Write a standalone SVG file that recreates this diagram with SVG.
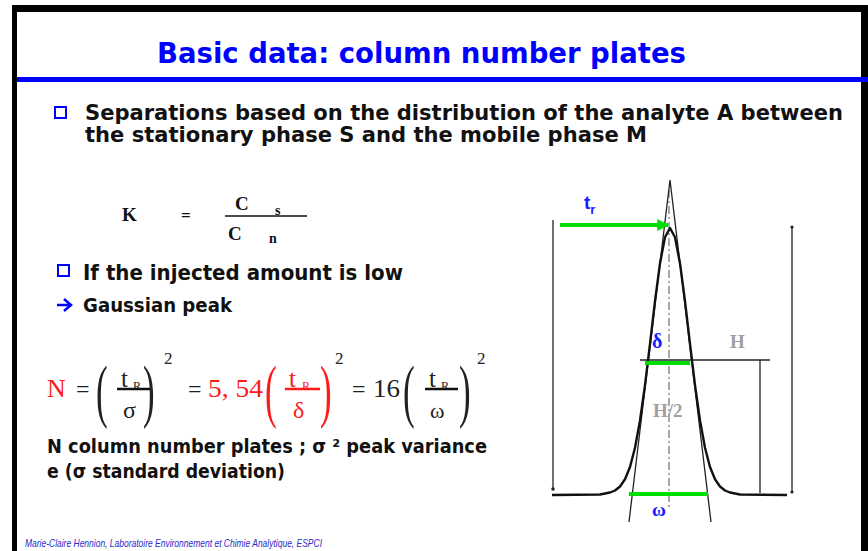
<svg xmlns="http://www.w3.org/2000/svg" width="868" height="551" viewBox="0 0 868 551">
<style>
.comic{font-family:"DejaVu Sans","Noto Sans",sans-serif;fill:#111;font-weight:bold}
.title{font-family:"DejaVu Sans","Noto Sans",sans-serif;fill:#0000ff;font-size:28px;font-weight:bold}
.tm{font-family:"Liberation Serif","Times New Roman",serif}
.red{fill:#ff1a1a}
.blk{fill:#222}
.green{stroke:#00dd00;stroke-width:4;fill:none}
.thin{stroke:#222;stroke-width:1.3;fill:none}
.grey{font-family:"Liberation Serif",serif;font-weight:bold;fill:#a0a0a0;font-size:19px}
.bluelbl{fill:#1a1aff;font-weight:bold}
.box{fill:none;stroke:#0000ff;stroke-width:2}
</style>
<defs>
<marker id="ah" viewBox="0 0 10 10" refX="9" refY="5" markerWidth="3" markerHeight="3" orient="auto"><path d="M0,0 L10,5 L0,10 z" fill="#00dd00"/></marker>
</defs>
<rect width="868" height="551" fill="#fff"/>
<g id="frame" fill="#000">
<rect x="12" y="5" width="856" height="7"/>
<rect x="12" y="5" width="5" height="546"/>
<rect x="861" y="5" width="7" height="546"/>
<rect x="17" y="77" width="851" height="5" fill="#0000ff"/>
</g>
<g id="title"><text class="title" x="157" y="63" textLength="529" lengthAdjust="spacingAndGlyphs">Basic data: column number plates</text></g>
<g id="intro">
<rect class="box" x="55" y="107" width="11" height="11"/>
<text class="comic" font-size="21" x="85" y="120" textLength="758" lengthAdjust="spacingAndGlyphs">Separations based on the distribution of the analyte A between</text>
<text class="comic" font-size="21" x="85" y="142" textLength="562" lengthAdjust="spacingAndGlyphs">the stationary phase S and the mobile phase M</text>
</g>
<g id="k-formula" class="tm" font-weight="bold" fill="#111">
<text x="122" y="221" font-size="19">K</text>
<text x="181" y="221" font-size="17">=</text>
<text x="235" y="210" font-size="19">C</text>
<text x="275" y="215" font-size="14">s</text>
<line x1="225" y1="216" x2="307" y2="216" stroke="#111" stroke-width="1.5"/>
<text x="228" y="240" font-size="19">C</text>
<text x="269" y="243" font-size="14">n</text>
</g>
<g id="low">
<rect class="box" x="58" y="265" width="11" height="11"/>
<text class="comic" font-size="21" x="83" y="280" textLength="320" lengthAdjust="spacingAndGlyphs">If the injected amount is low</text>
<path d="M57,305 H70 M64,299 L71,305 L64,311" stroke="#0000ff" stroke-width="2.5" fill="none"/>
<text class="comic" font-size="20" x="83" y="312" textLength="149" lengthAdjust="spacingAndGlyphs">Gaussian peak</text>
</g>
<g id="n-formula" class="tm">
<text class="red" x="47" y="397" font-size="26">N</text>
<text class="blk" x="76" y="397" font-size="24">=</text>
<text class="blk" transform="translate(96,414) scale(0.5,1)" font-size="70">(</text>
<text class="blk" x="121" y="387" font-size="25">t</text>
<text class="blk" x="133" y="390" font-size="12">R</text>
<line x1="117" y1="389" x2="152" y2="389" stroke="#111" stroke-width="2.4"/>
<text class="blk" x="123" y="418" font-size="24">σ</text>
<text class="blk" transform="translate(143,414) scale(0.5,1)" font-size="70">)</text>
<text class="blk" x="164" y="364" font-size="17">2</text>
<text class="blk" x="188" y="397" font-size="24">=</text>
<text class="red" x="208" y="397" font-size="26" textLength="55" lengthAdjust="spacingAndGlyphs">5, 54</text>
<text class="red" transform="translate(265,414) scale(0.5,1)" font-size="70">(</text>
<text class="red" x="289" y="387" font-size="25">t</text>
<text class="red" x="302" y="390" font-size="12">R</text>
<line x1="285" y1="389" x2="320" y2="389" stroke="#ff1a1a" stroke-width="2.4"/>
<text class="red" x="293" y="418" font-size="24">δ</text>
<text class="red" transform="translate(320,414) scale(0.5,1)" font-size="70">)</text>
<text class="blk" x="335" y="364" font-size="17">2</text>
<text class="blk" x="352" y="397" font-size="24">=</text>
<text class="blk" x="373" y="397" font-size="26" textLength="27" lengthAdjust="spacingAndGlyphs">16</text>
<text class="blk" transform="translate(403,414) scale(0.5,1)" font-size="70">(</text>
<text class="blk" x="429" y="387" font-size="25">t</text>
<text class="blk" x="441" y="390" font-size="12">R</text>
<line x1="425" y1="389" x2="458" y2="389" stroke="#111" stroke-width="2.4"/>
<text class="blk" x="430" y="418" font-size="22">ω</text>
<text class="blk" transform="translate(459,414) scale(0.5,1)" font-size="70">)</text>
<text class="blk" x="477" y="364" font-size="17">2</text>
</g>
<g id="legend">
<text class="comic" font-size="19" x="47" y="453" textLength="440" lengthAdjust="spacingAndGlyphs">N column number plates ; σ ² peak variance</text>
<text class="comic" font-size="19" x="47" y="478" textLength="238" lengthAdjust="spacingAndGlyphs">e (σ standard deviation)</text>
</g>
<g id="chromatogram">
<line class="thin" x1="553" y1="220" x2="553" y2="489" stroke-width="2"/>
<circle cx="553" cy="489" r="1.8" fill="#222"/>
<line class="thin" x1="792" y1="227" x2="792" y2="492" stroke-width="1.6"/>
<circle cx="792" cy="227" r="1.6" fill="#222"/>
<circle cx="792" cy="492" r="1.6" fill="#222"/>
<line class="thin" x1="640" y1="360" x2="770" y2="360" stroke-width="1.8"/>
<line class="thin" x1="760" y1="360" x2="760" y2="493" stroke-width="1.5"/>
<line x1="669" y1="190" x2="669" y2="508" stroke="#555" stroke-width="1" stroke-dasharray="8,3,2,3"/>
<path class="thin" d="M670,180 L629,522 M670,180 L711,522" stroke-width="1"/>
<path d="M552,495 L600,494.5 L610,492.5 L615,490.5 L620,486.5 L625,479.3 L630,467 L635,447.8 L640,420.5 L645,385.2 L650,343.8 L655,301.2 L660,263.4 L665,237.3 L670,228 L675,237.3 L680,263.4 L685,301.2 L690,343.8 L695,385.2 L700,420.5 L705,447.8 L710,467 L715,479.3 L720,486.5 L725,490.5 L730,492.5 L740,494.5 L787,495" fill="none" stroke="#111" stroke-width="2.4" stroke-linejoin="round"/>
</g>
<g id="dimensions">
<line class="green" x1="560" y1="225" x2="668" y2="225" marker-end="url(#ah)"/>
<line class="green" x1="645" y1="363" x2="690" y2="363"/>
<line class="green" x1="629" y1="494" x2="708" y2="494"/>
</g>
<g id="labels">
<text class="bluelbl" font-family="Liberation Sans,sans-serif" font-size="19" x="584" y="209">t<tspan font-size="13" dy="5">r</tspan></text>
<text class="bluelbl" font-family="Liberation Serif,serif" font-size="20" x="652" y="348">δ</text>
<text class="grey" x="730" y="348">H</text>
<text class="grey" x="653" y="417">H/2</text>
<text class="bluelbl" font-family="Liberation Serif,serif" font-size="19" x="652" y="516">ω</text>
</g>
<g id="footer"><text x="25" y="547" font-family="Liberation Sans,Arial,sans-serif" font-style="italic" font-size="11" fill="#2a2acc" textLength="297" lengthAdjust="spacingAndGlyphs">Marie-Claire Hennion, Laboratoire Environnement et Chimie Analytique, ESPCI</text></g>
</svg>
